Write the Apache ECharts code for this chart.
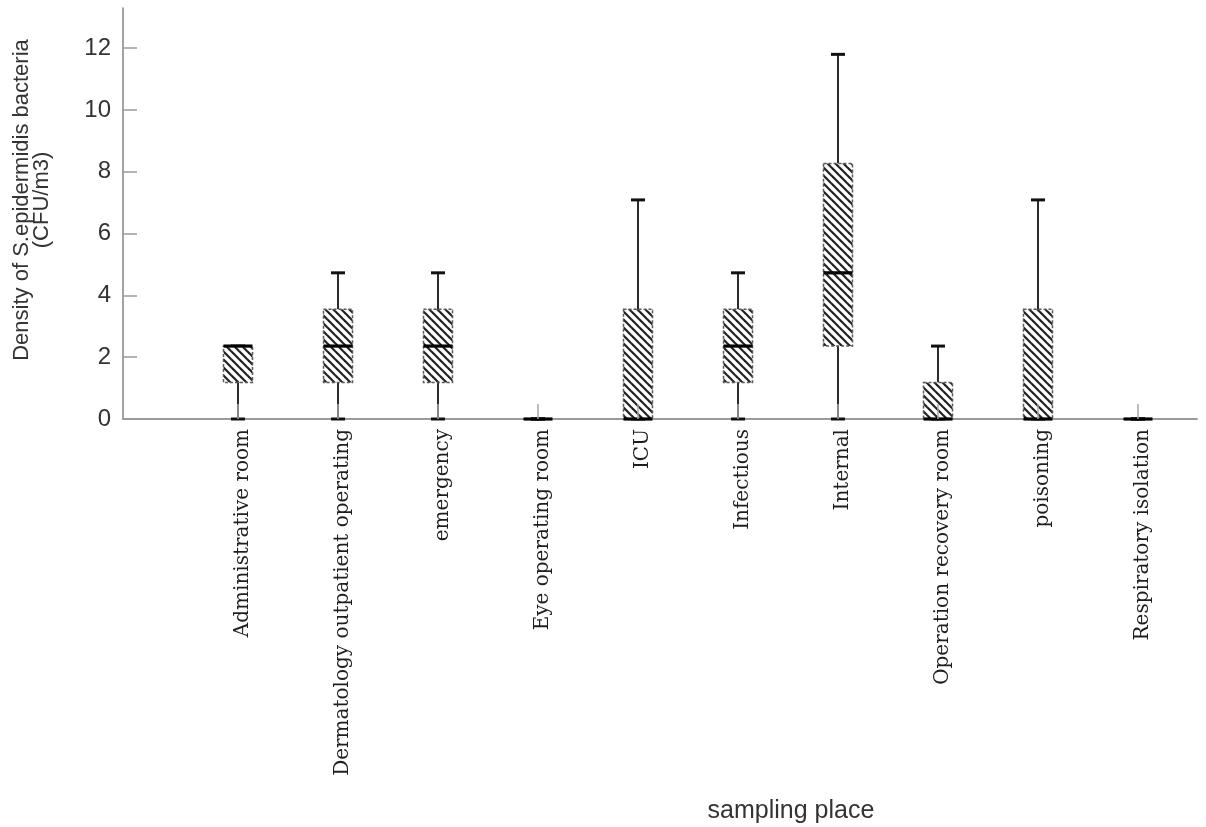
<!DOCTYPE html>
<html>
<head>
<meta charset="utf-8">
<script src="https://cdn.jsdelivr.net/npm/echarts@6/dist/echarts.min.js"></script>
<style>
  html, body { margin: 0; padding: 0; background: #ffffff; }
  #chart { width: 1206px; height: 827px; }
</style>
</head>
<body>
<div id="chart"></div>
<script>
// ---- Data ----
const categories = [
  'Administrative room',
  'Dermatology outpatient operating',
  'emergency',
  'Eye operating room',
  'ICU',
  'Infectious',
  'Internal',
  'Operation recovery room',
  'poisoning',
  'Respiratory isolation'
];
const whiskerLow  = [0, 0, 0, 0, 0, 0, 0, 0, 0, 0];
const quartile1   = [1.18, 1.18, 1.18, 0, 0, 1.18, 2.36, 0, 0, 0];
const medians     = [2.36, 2.36, 2.36, 0, 0, 2.36, 4.73, 0, 0, 0];
const quartile3   = [2.36, 3.55, 3.55, 0, 3.55, 3.55, 8.27, 1.18, 3.55, 0];
const whiskerHigh = [2.36, 4.73, 4.73, 0, 7.09, 4.73, 11.8, 2.36, 7.09, 0];
const yTicks      = [0, 2, 4, 6, 8, 10, 12];

const yTitle = 'Density of S.epidermidis bacteria\n(CFU/m3)';
const xTitle = 'sampling place';

// ---- Hatch pattern ----
const P = 8;
const pat = document.createElement('canvas');
pat.width = P; pat.height = P;
(function () {
  const c = pat.getContext('2d');
  c.fillStyle = '#ffffff';
  c.fillRect(0, 0, P, P);
  c.strokeStyle = '#222222';
  c.lineWidth = 2.2;
  for (let k = -1; k <= 1; k++) {
    c.beginPath();
    c.moveTo(-1, k * P - 1);
    c.lineTo(P + 1, P + 1 + k * P);
    c.stroke();
  }
})();

const boxData = categories.map((c, i) => [i, whiskerLow[i], quartile1[i], medians[i], quartile3[i], whiskerHigh[i]]);

const chart = echarts.init(document.getElementById('chart'), null, { renderer: 'canvas' });

const yMax = 13.3;

function renderBox(params, api) {
  const i = api.value(0);
  const vMin = api.value(1), vQ1 = api.value(2), vMed = api.value(3), vQ3 = api.value(4), vMax = api.value(5);
  const pMin = api.coord([i, vMin]);
  const pQ1 = api.coord([i, vQ1]);
  const pMed = api.coord([i, vMed]);
  const pQ3 = api.coord([i, vQ3]);
  const pMax = api.coord([i, vMax]);
  const cx = pMin[0];
  const bw = 29;
  const cw = 14;
  const children = [];
  const whiskerStyle = { stroke: '#2b2b2b', lineWidth: 2 };
  const capStyle = { stroke: '#111111', lineWidth: 3 };
  if (vMax > vQ3) {
    children.push({ type: 'line', shape: { x1: cx, y1: pQ3[1], x2: cx, y2: pMax[1] }, style: whiskerStyle });
  }
  if (vQ1 > vMin) {
    children.push({ type: 'line', shape: { x1: cx, y1: pQ1[1], x2: cx, y2: pMin[1] }, style: whiskerStyle });
  }
  children.push({ type: 'line', shape: { x1: cx - cw / 2, y1: pMax[1], x2: cx + cw / 2, y2: pMax[1] }, style: capStyle });
  children.push({ type: 'line', shape: { x1: cx - cw / 2, y1: pMin[1], x2: cx + cw / 2, y2: pMin[1] }, style: capStyle });
  if (pQ1[1] - pQ3[1] > 0.5) {
    children.push({
      type: 'rect',
      shape: { x: cx - bw / 2, y: pQ3[1], width: bw, height: pQ1[1] - pQ3[1] },
      style: { fill: { image: pat, repeat: 'repeat' }, stroke: '#5a5a5a', lineWidth: 1.5, lineDash: [3, 2] }
    });
  }
  children.push({ type: 'line', shape: { x1: cx - bw / 2, y1: pMed[1], x2: cx + bw / 2, y2: pMed[1] }, style: { stroke: '#000000', lineWidth: 3.2 } });
  return { type: 'group', children: children };
}

const option = {
  backgroundColor: '#ffffff',
  animation: false,
  grid: [
    { left: 123, right: 9, top: 8, bottom: 408 },
    { left: 188, right: 18, top: 8, bottom: 408 }
  ],
  xAxis: [
    {
      gridIndex: 0, type: 'value', min: 0, max: 1,
      axisLine: { show: true, lineStyle: { color: '#9a9a9a', width: 1.8 } },
      axisTick: { show: false }, axisLabel: { show: false }, splitLine: { show: false }
    },
    {
      gridIndex: 1, type: 'category', data: categories, z: 10,
      axisLine: { show: false },
      axisTick: { show: true, inside: true, length: 15, alignWithLabel: true, lineStyle: { color: '#a8a8a8', width: 1.5 } },
      axisLabel: {
        rotate: 90, margin: 10, interval: 0, verticalAlign: 'top', lineHeight: 10,
        fontFamily: 'DejaVu Serif', fontSize: 20, color: '#1e1e1e'
      },
      splitLine: { show: false }
    }
  ],
  yAxis: [
    {
      gridIndex: 0, type: 'value', min: 0, max: yMax, interval: 2,
      axisLine: { show: true, lineStyle: { color: '#8c8c8c', width: 1.6 } },
      axisTick: { show: true, inside: true, length: 14, customValues: yTicks, lineStyle: { color: '#9a9a9a', width: 1.5 } },
      axisLabel: {
        margin: 12, fontFamily: 'Liberation Sans', fontSize: 24, color: '#333333',
        customValues: yTicks
      },
      splitLine: { show: false }
    },
    {
      gridIndex: 1, type: 'value', min: 0, max: yMax, interval: 2, show: false,
      splitLine: { show: false }
    }
  ],
  graphic: [
    {
      type: 'text', x: 32, y: 200, rotation: Math.PI / 2,
      style: {
        text: yTitle, fontFamily: 'Liberation Sans', fontSize: 22, lineHeight: 20,
        fill: '#333333', align: 'center', verticalAlign: 'middle'
      }
    },
    {
      type: 'text', x: 791, y: 811,
      style: {
        text: xTitle, fontFamily: 'Liberation Sans', fontSize: 25,
        fill: '#333333', align: 'center', verticalAlign: 'middle'
      }
    }
  ],
  series: [
    {
      type: 'custom',
      xAxisIndex: 1, yAxisIndex: 1,
      data: boxData,
      encode: { x: 0, y: [1, 2, 3, 4, 5] },
      renderItem: renderBox,
      clip: false,
      z: 3
    }
  ]
};

chart.setOption(option);
</script>
</body>
</html>
